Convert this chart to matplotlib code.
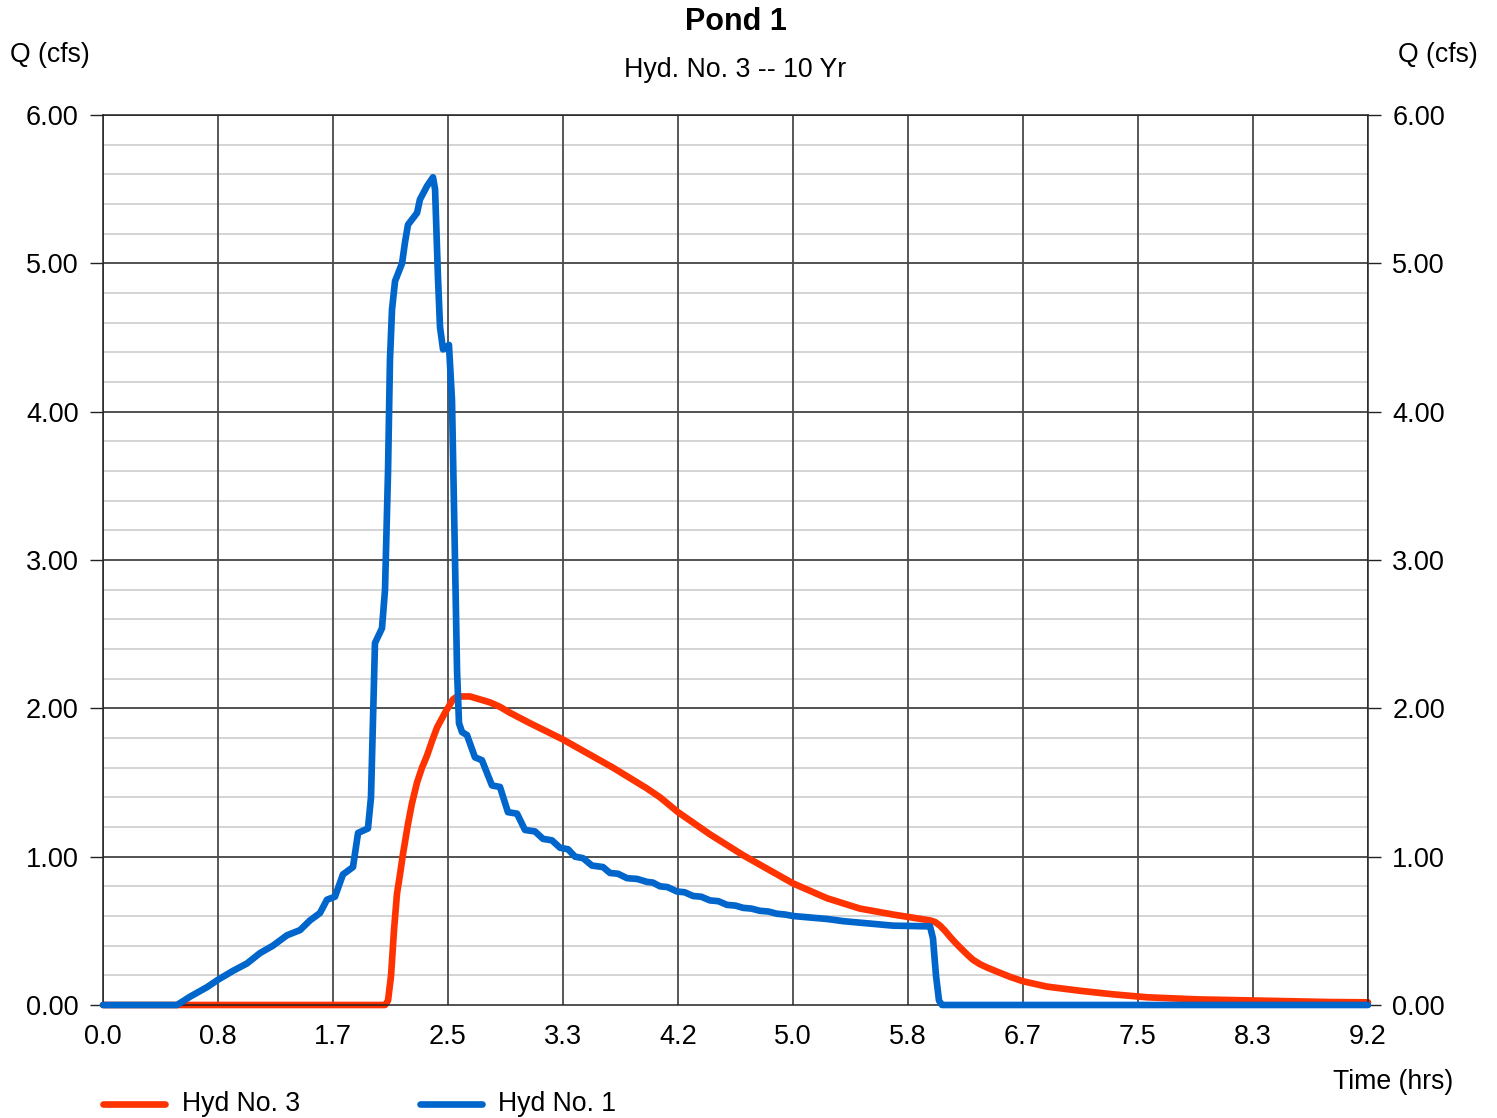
import matplotlib
matplotlib.use("Agg")
import matplotlib.pyplot as plt
import numpy as np
from matplotlib.lines import Line2D

plt.rcParams['font.family'] = ['Liberation Sans', 'DejaVu Sans']

# ---- data ----
x_tick_labels = ["0.0", "0.8", "1.7", "2.5", "3.3", "4.2", "5.0", "5.8", "6.7", "7.5", "8.3", "9.2"]
legend_labels = ["Hyd No. 3", "Hyd No. 1"]

hyd1_t = [0.0, 0.538, 0.633, 0.756, 0.836, 0.945, 1.047, 1.142, 1.236, 1.338, 1.433, 1.505,
          1.578, 1.629, 1.687, 1.745, 1.818, 1.855, 1.927, 1.949, 1.978, 2.029, 2.051, 2.073,
          2.087, 2.102, 2.124, 2.175, 2.196, 2.218, 2.284, 2.305, 2.356, 2.400, 2.415, 2.436,
          2.451, 2.473, 2.495, 2.516, 2.538, 2.560, 2.575, 2.589, 2.611, 2.647, 2.705, 2.756,
          2.829, 2.887, 2.945, 3.011, 3.069, 3.142, 3.200, 3.265, 3.324, 3.382, 3.433, 3.491,
          3.556, 3.636, 3.687, 3.745, 3.811, 3.884, 3.956, 4.000, 4.051, 4.105, 4.175, 4.230,
          4.291, 4.350, 4.415, 4.475, 4.538, 4.600, 4.655, 4.715, 4.778, 4.840, 4.902, 4.960,
          5.018, 5.140, 5.265, 5.385, 5.505, 5.625, 5.745, 6.015, 6.036, 6.058, 6.080, 6.102,
          9.2]
hyd1_q = [0.0, 0.0, 0.056, 0.12, 0.17, 0.23, 0.28, 0.35, 0.40, 0.47, 0.505, 0.57,
          0.62, 0.71, 0.73, 0.88, 0.93, 1.16, 1.19, 1.40, 2.44, 2.54, 2.80, 3.6,
          4.35, 4.69, 4.88, 5.00, 5.14, 5.26, 5.34, 5.43, 5.52, 5.58, 5.50, 4.91,
          4.57, 4.42, 4.43, 4.45, 4.08, 3.0, 2.25, 1.90, 1.84, 1.82, 1.67, 1.65,
          1.48, 1.47, 1.30, 1.29, 1.18, 1.17, 1.12, 1.11, 1.06, 1.05, 1.00, 0.99,
          0.94, 0.93, 0.89, 0.885, 0.855, 0.85, 0.83, 0.825, 0.80, 0.795, 0.765, 0.76,
          0.735, 0.73, 0.705, 0.70, 0.675, 0.67, 0.655, 0.65, 0.635, 0.63, 0.615, 0.61,
          0.60, 0.59, 0.58, 0.565, 0.555, 0.545, 0.535, 0.53, 0.45, 0.2, 0.03, 0.0,
          0.0]

hyd3_t = [0.0, 2.051, 2.073, 2.095, 2.116, 2.138, 2.160, 2.182, 2.218, 2.247, 2.284, 2.320,
          2.356, 2.393, 2.429, 2.487, 2.545, 2.575, 2.669, 2.815, 2.887, 2.960, 3.105, 3.345,
          3.709, 3.956, 4.051, 4.182, 4.415, 4.655, 5.018, 5.265, 5.505, 5.745, 6.015, 6.051,
          6.087, 6.124, 6.160, 6.204, 6.247, 6.291, 6.327, 6.378, 6.436, 6.502, 6.596, 6.691,
          6.865, 7.105, 7.345, 7.593, 7.956, 8.436, 8.924, 9.2]
hyd3_q = [0.0, 0.0, 0.03, 0.20, 0.50, 0.75, 0.88, 1.02, 1.22, 1.36, 1.50, 1.60,
          1.68, 1.78, 1.87, 1.97, 2.06, 2.08, 2.08, 2.04, 2.01, 1.97, 1.90, 1.79,
          1.60, 1.46, 1.40, 1.30, 1.15, 1.01, 0.82, 0.72, 0.65, 0.61, 0.57, 0.56,
          0.535, 0.50, 0.46, 0.415, 0.375, 0.335, 0.305, 0.275, 0.25, 0.225, 0.19, 0.16,
          0.124, 0.096, 0.072, 0.052, 0.038, 0.029, 0.02, 0.018]

RED = "#FF3300"
BLUE = "#0066CC"
LW = 4.8

fig = plt.figure(figsize=(14.97, 11.18), dpi=100)
ax = fig.add_axes([103/1497, 1 - 1005/1118, (1368-103)/1497, (1005-115)/1118])

ax.set_xlim(0, 9.2)
ax.set_ylim(0, 6)

# grid
for y in np.arange(0.2, 6.0, 0.2):
    if abs(y - round(y)) > 1e-6:
        ax.axhline(y, color="#d4d4d4", lw=1.4, zorder=0.5)
for y in range(1, 7):
    ax.axhline(y, color="#222222", lw=1.1, zorder=0.6)
xt = np.linspace(0, 9.2, 12)
for x in xt:
    ax.axvline(x, color="#4a4a4a", lw=1.3, zorder=0.6)

ax.plot(hyd1_t, hyd1_q, color=BLUE, lw=LW, solid_joinstyle='round', solid_capstyle='round', zorder=3, clip_on=False)
ax.plot(hyd3_t, hyd3_q, color=RED, lw=LW, solid_joinstyle='round', solid_capstyle='round', zorder=2, clip_on=False)

ax.set_xticks(xt)
ax.set_xticklabels(x_tick_labels)
ax.set_yticks(range(0, 7))
ax.set_yticklabels([f"{v:.2f}" for v in range(0, 7)])
ax.tick_params(axis='x', length=0, pad=14, labelsize=19.5)
ax.tick_params(axis='y', left=True, right=True, labelleft=True, labelright=True,
               length=9.5, width=1.0, color="#222222", pad=8, labelsize=19.5, direction='out')
for s in ax.spines.values():
    s.set_color("#222222")
    s.set_linewidth(1.1)

fig.text(735.5/1497, 1 - 22/1118, "Pond 1", ha='center', va='center', fontsize=22, fontweight='bold')
fig.text(735.5/1497, 1 - 70/1118, "Hyd. No. 3 -- 10 Yr", ha='center', va='center', fontsize=19.3)
fig.text(10/1497, 1 - 55/1118, "Q (cfs)", ha='left', va='center', fontsize=19.2)
fig.text(1478/1497, 1 - 55/1118, "Q (cfs)", ha='right', va='center', fontsize=19.2)
fig.text(1453/1497, 1 - 1082/1118, "Time (hrs)", ha='right', va='center', fontsize=19.2)

# legend (manual placement)
ly = 1 - 1104/1118
for (x0, x1, tx), col, lab in zip([(103, 165, 182), (420, 482, 498)], [RED, BLUE], legend_labels):
    fig.add_artist(Line2D([x0/1497, x1/1497], [ly, ly], transform=fig.transFigure,
                          color=col, lw=LW, solid_capstyle='round'))
    fig.text(tx/1497, ly, lab, ha='left', va='center', fontsize=19.2)

fig.savefig("out.png", dpi=100)
